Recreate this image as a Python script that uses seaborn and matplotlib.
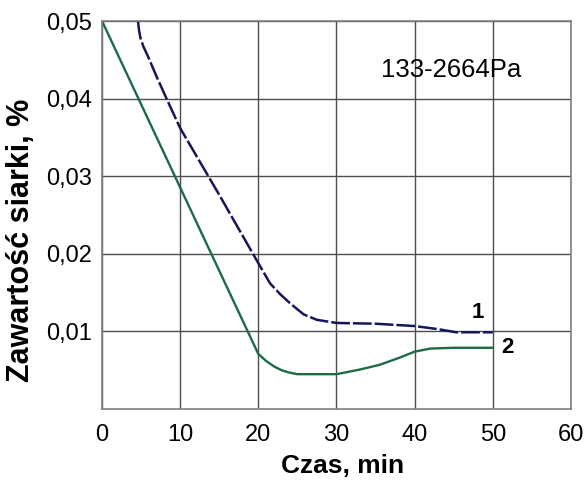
import numpy as np
import pandas as pd
import matplotlib
matplotlib.use('Agg')
import matplotlib.pyplot as plt
import seaborn as sns

# curve 1 (dashed) and curve 2 (solid)
czas_1 = [4.6, 4.75, 4.95, 5.3, 5.9, 7.0, 8.3, 10, 15, 20, 21.5, 22.8, 24.1, 25.8, 27.5, 30,
          35, 40, 43, 45.3, 50]
siarka_1 = [0.050, 0.0487, 0.0477, 0.0467, 0.0454, 0.0428, 0.0399, 0.0362, 0.0276, 0.0188,
            0.0162, 0.0148, 0.0136, 0.0122, 0.0115, 0.0111, 0.0110, 0.0107, 0.0103, 0.0099,
            0.0099]
czas_2 = [0, 20, 21, 22, 23, 24, 25, 30, 33, 35.5, 38, 40, 42, 45, 50]
siarka_2 = [0.050, 0.0071, 0.0062, 0.0055, 0.0050, 0.0047, 0.0045, 0.0045, 0.0051, 0.0057,
            0.0066, 0.0074, 0.0078, 0.0079, 0.0079]

x_ticks = [0, 10, 20, 30, 40, 50, 60]
y_ticks = [0.01, 0.02, 0.03, 0.04, 0.05]
y_tick_labels = ['0,01', '0,02', '0,03', '0,04', '0,05']

sns.set_style('white')
plt.rcParams['font.family'] = ['Liberation Sans', 'DejaVu Sans']
plt.rcParams['text.color'] = 'black'
plt.rcParams['axes.labelcolor'] = 'black'
plt.rcParams['xtick.color'] = 'black'
plt.rcParams['ytick.color'] = 'black'

df1 = pd.DataFrame({'czas': czas_1, 'siarka': siarka_1})
df2 = pd.DataFrame({'czas': czas_2, 'siarka': siarka_2})

fig = plt.figure(figsize=(5.88, 4.83), dpi=100)
ax = fig.add_axes([0.1735, 0.153, 0.7975, 0.8035])

ax.grid(True, color='#4d4d4d', linewidth=1)
ax.set_axisbelow(True)

sns.lineplot(data=df2, x='czas', y='siarka', color='#1d6b45', linewidth=1.7, ax=ax, sort=False)
sns.lineplot(data=df1, x='czas', y='siarka', color='#16165a', linewidth=1.8, ax=ax, sort=False)
ax.lines[-1].set_dashes([7.5, 1.2])

ax.set_xlim(0, 60)
ax.set_ylim(0, 0.05)
ax.set_xticks(x_ticks)
ax.set_yticks(y_ticks)
ax.set_yticklabels(y_tick_labels)
ax.tick_params(length=0, labelsize=17)
ax.tick_params(axis='x', pad=11)
ax.tick_params(axis='y', pad=7)

for s in ax.spines.values():
    s.set_color('#808080')
    s.set_linewidth(1.2)

ax.set_xlabel('Czas, min', fontsize=19, fontweight='bold')
ax.set_ylabel('Zawartość siarki, %', fontsize=22, fontweight='bold')
ax.xaxis.set_label_coords(0.514, -0.115)
ax.yaxis.set_label_coords(-0.14, 0.435)

ax.text(44.7, 0.0437, '133-2664Pa', fontsize=18.5, ha='center', va='center')
ax.text(48.1, 0.0124, '1', fontsize=16, fontweight='bold', ha='center', va='center')
ax.text(51.9, 0.0079, '2', fontsize=16, fontweight='bold', ha='center', va='center')

fig.savefig('out.png', dpi=100)
